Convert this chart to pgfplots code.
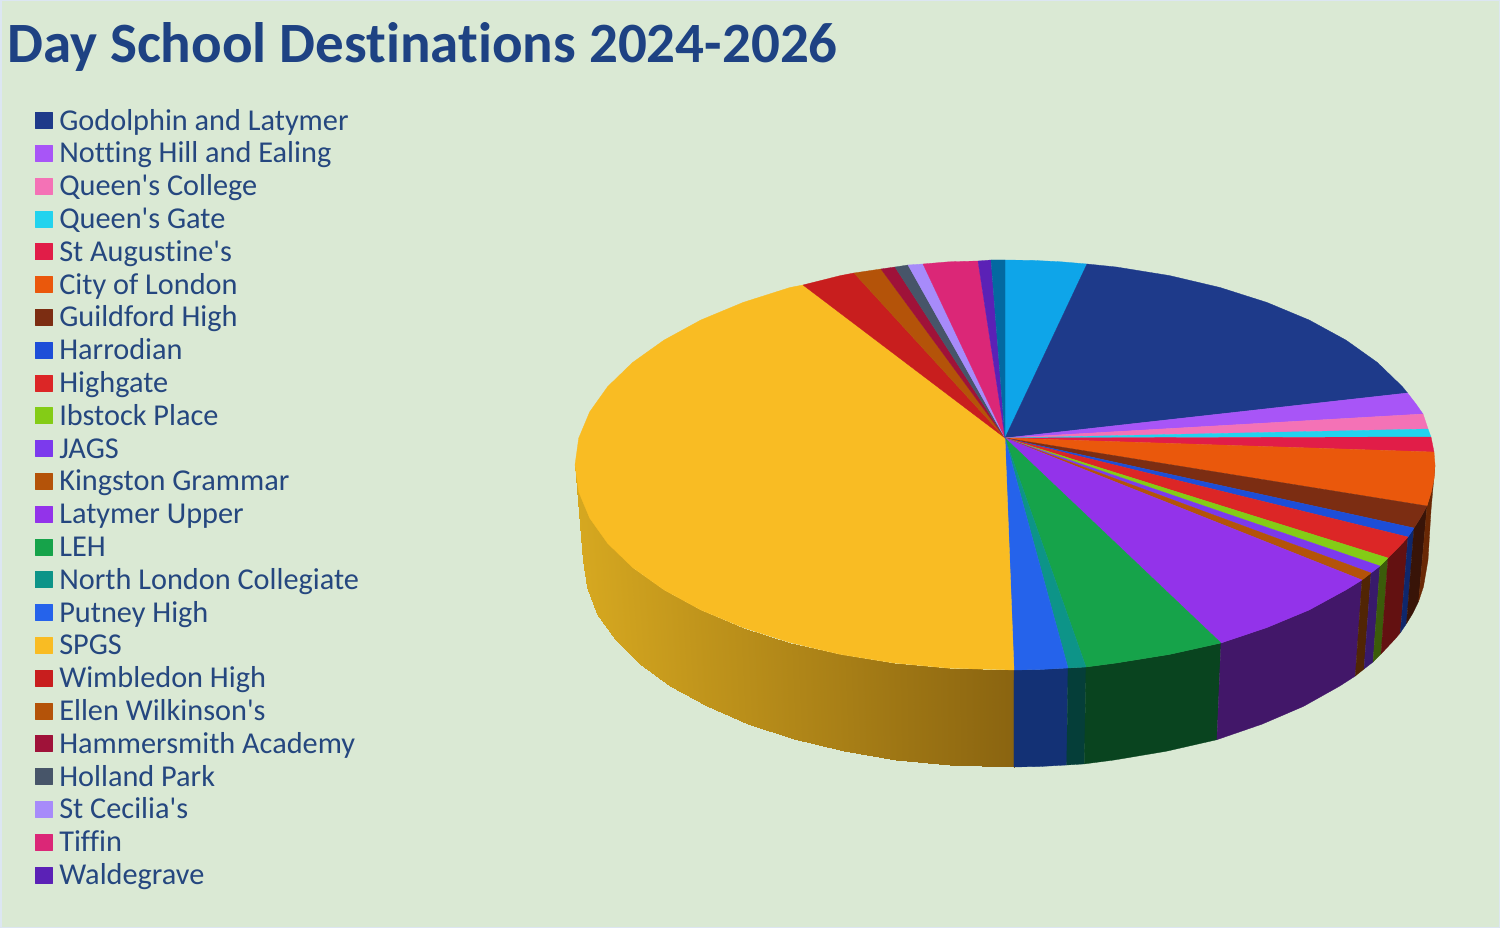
\documentclass[border=0pt]{standalone}
\usepackage{fontspec}
\setmainfont{Carlito}[Ligatures={NoCommon}]
\usepackage{pgfplots}
\pgfplotsset{compat=1.18}

\definecolor{bg}{HTML}{DAE9D4}
\definecolor{border}{HTML}{DCE6F2}
\definecolor{titleblue}{HTML}{1E4283}
\definecolor{legendblue}{HTML}{25477F}

\definecolor{cGodolphin}{HTML}{1E3A8A}
\definecolor{cNotting}{HTML}{A855F7}
\definecolor{cQueensC}{HTML}{F472B6}
\definecolor{cQueensG}{HTML}{22D3EE}
\definecolor{cAugustine}{HTML}{E11D48}
\definecolor{cCity}{HTML}{EA580C}
\definecolor{cGuildford}{HTML}{7C2D12}
\definecolor{cHarrodian}{HTML}{1D4ED8}
\definecolor{cHighgate}{HTML}{DC2626}
\definecolor{cIbstock}{HTML}{84CC16}
\definecolor{cJags}{HTML}{7C3AED}
\definecolor{cKingston}{HTML}{B45309}
\definecolor{cLatymer}{HTML}{9333EA}
\definecolor{cLeh}{HTML}{16A34A}
\definecolor{cNlc}{HTML}{0D9488}
\definecolor{cPutney}{HTML}{2563EB}
\definecolor{cSpgs}{HTML}{F9BC23}
\definecolor{cWimbledon}{HTML}{C81E1E}
\definecolor{cEllen}{HTML}{B45309}
\definecolor{cHammersmith}{HTML}{9F1239}
\definecolor{cHolland}{HTML}{475569}
\definecolor{cCecilia}{HTML}{A78BFA}
\definecolor{cTiffin}{HTML}{DB2777}
\definecolor{cWaldegrave}{HTML}{5B21B6}
\definecolor{cSky}{HTML}{0EA5E9}
\definecolor{cOcean}{HTML}{0369A1}

\tikzset{slice/.style={fill=#1,draw=#1,line width=0.3pt,mark=none,line join=round}}

\begin{document}
\begin{tikzpicture}
\begin{axis}[
    scale only axis,
    width=1500pt, height=928pt,
    xmin=0, xmax=1500,
    ymin=0, ymax=928,
    y dir=reverse,
    axis lines=none,
    colormap={gold}{rgb255=(214,168,32) rgb255=(138,100,16)},
    point meta min=0, point meta max=1,
    legend image code/.code={\fill[#1] (0pt,-5pt) rectangle (17pt,11pt);\path (24pt,0pt);},
    legend cell align=left,
    legend style={
        at={(axis cs:35,107)}, anchor=north west,
        draw=none, fill=none, inner sep=0pt, outer sep=0pt,
        row sep=0pt, column sep=0pt,
        font=\fontsize{30.3}{33}\selectfont\color{legendblue},
        nodes={inner sep=0pt, outer sep=0pt, text height=23pt, text depth=9.8pt},
    },
]

% background
\addplot[fill=bg, draw=border, line width=3pt, forget plot] coordinates {(0,0)(1500,0)(1500,928)(0,928)} -- cycle;

% side walls
\addplot[surf, shader=interp, mesh/rows=2, point meta=explicit, forget plot] table[meta=m] {
x y m
575 465 0
578.7 491.8 0.01
589.7 518.1 0.03
607.7 543.4 0.07
632.6 567.5 0.13
663.9 589.8 0.2
700.9 610 0.29
743.2 627.6 0.38
790 642.5 0.49
840.4 654.4 0.6
893.7 663 0.73
948.9 668.2 0.85
1014 670 1

583 560 0
586.6 587 0.01
597.4 613.6 0.03
615.1 639.2 0.07
639.5 663.5 0.13
670.2 686 0.2
706.6 706.4 0.29
748.1 724.2 0.38
794 739.3 0.49
843.5 751.2 0.6
895.8 759.9 0.73
949.9 765.2 0.85
1013.9 767 1
};
\addplot[slice=cPutney!50!black, forget plot] coordinates {(1014,670)(1040,669.5)(1068,668)(1066.7,765)(1040,766.5)(1013.9,767)} -- cycle;
\addplot[slice=cNlc!42!black, forget plot] coordinates {(1068,668)(1086,667)(1084.4,763.9)(1066.7,765)} -- cycle;
\addplot[slice=cLeh!42!black, forget plot] coordinates {(1086,667)(1116.3,663)(1169.6,654.4)(1221,643)(1216.9,739.7)(1166.5,751.2)(1114.2,760)(1084.4,763.9)} -- cycle;
\addplot[slice=cLatymer!45!black, forget plot] coordinates {(1221,643)(1266.8,627.6)(1309.1,610)(1346.1,589.8)(1362,580)(1355.3,676)(1339.8,686)(1303.4,706.4)(1261.9,724.2)(1216.9,739.7)} -- cycle;
\addplot[slice=cKingston!45!black, forget plot] coordinates {(1362,580)(1371,573)(1364,669)(1355.3,676)} -- cycle;
\addplot[slice=cJags!45!black, forget plot] coordinates {(1371,573)(1380,566)(1373,662)(1364,669)} -- cycle;
\addplot[slice=cIbstock!45!black, forget plot] coordinates {(1380,566)(1388,558)(1381,654)(1373,662)} -- cycle;
\addplot[slice=cHighgate!45!black, forget plot] coordinates {(1388,558)(1402.3,543.4)(1408,537)(1400.4,632.7)(1394.9,639.2)(1381,654)} -- cycle;
\addplot[slice=cHarrodian!50!black, forget plot] coordinates {(1408,537)(1414,528)(1406.5,623.6)(1400.4,632.7)} -- cycle;
\addplot[slice=cGuildford!45!black, forget plot] coordinates {(1414,528)(1420.3,518.1)(1427,506)(1418.6,601.4)(1412.6,613.6)(1406.5,623.6)} -- cycle;
\addplot[slice=cCity!45!black, forget plot] coordinates {(1427,506)(1431.3,491.8)(1435,465)(1431,510)(1428,560)(1423.4,587)(1418.6,601.4)} -- cycle;

% top of the pie, clockwise from 12 o'clock
\addplot[slice=cSky, forget plot] coordinates {(1005,438)(1005,260)(1033,260.4)(1061.1,261.8)(1087,264)} -- cycle;
\addplot[slice=cGodolphin] coordinates {(1005,438)(1087,264)(1116.3,267)(1169.6,275.6)(1220,287.5)(1266.8,302.4)(1309.1,320)(1346.1,340.2)(1377.4,362.5)(1402.3,386.6)(1407.5,393)} -- cycle;
\addlegendentry{Godolphin and Latymer}
\addplot[slice=cNotting] coordinates {(1005,438)(1407.5,393)(1416,404)(1423,414)} -- cycle;
\addlegendentry{Notting Hill and Ealing}
\addplot[slice=cQueensC] coordinates {(1005,438)(1423,414)(1428,429)} -- cycle;
\addlegendentry{Queen\textquotesingle s College}
\addplot[slice=cQueensG] coordinates {(1005,438)(1428,429)(1431,437)} -- cycle;
\addlegendentry{Queen\textquotesingle s Gate}
\addplot[slice=cAugustine] coordinates {(1005,438)(1431,437)(1434,452)} -- cycle;
\addlegendentry{St Augustine\textquotesingle s}
\addplot[slice=cCity] coordinates {(1005,438)(1434,452)(1435,465)(1434.2,478)(1431.3,491.8)(1427,506)} -- cycle;
\addlegendentry{City of London}
\addplot[slice=cGuildford] coordinates {(1005,438)(1427,506)(1420.3,518.1)(1414,528)} -- cycle;
\addlegendentry{Guildford High}
\addplot[slice=cHarrodian] coordinates {(1005,438)(1414,528)(1408,537)} -- cycle;
\addlegendentry{Harrodian}
\addplot[slice=cHighgate] coordinates {(1005,438)(1408,537)(1402.3,543.4)(1388,558)} -- cycle;
\addlegendentry{Highgate}
\addplot[slice=cIbstock] coordinates {(1005,438)(1388,558)(1380,566)} -- cycle;
\addlegendentry{Ibstock Place}
\addplot[slice=cJags] coordinates {(1005,438)(1380,566)(1371,573)} -- cycle;
\addlegendentry{JAGS}
\addplot[slice=cKingston] coordinates {(1005,438)(1371,573)(1362,580)} -- cycle;
\addlegendentry{Kingston Grammar}
\addplot[slice=cLatymer] coordinates {(1005,438)(1362,580)(1346.1,589.8)(1309.1,610)(1266.8,627.6)(1221,643)} -- cycle;
\addlegendentry{Latymer Upper}
\addplot[slice=cLeh] coordinates {(1005,438)(1221,643)(1169.6,654.4)(1116.3,663)(1086,667)} -- cycle;
\addlegendentry{LEH}
\addplot[slice=cNlc] coordinates {(1005,438)(1086,667)(1068,668)} -- cycle;
\addlegendentry{North London Collegiate}
\addplot[slice=cPutney] coordinates {(1005,438)(1068,668)(1040,669.5)(1014,670)} -- cycle;
\addlegendentry{Putney High}
\addplot[slice=cSpgs] coordinates {(1005,438)(1014,670)(948.9,668.2)(893.7,663)(840.4,654.4)(790,642.5)(743.2,627.6)(700.9,610)(663.9,589.8)(632.6,567.5)(607.7,543.4)(589.7,518.1)(578.7,491.8)(575,465)(578.7,438.2)(589.7,411.9)(607.7,386.6)(632.6,362.5)(663.9,340.2)(700.9,320)(743.2,302.4)(790,287.5)(803,285)} -- cycle;
\addlegendentry{SPGS}
\addplot[slice=cWimbledon] coordinates {(1005,438)(803,285)(840.4,275.6)(854,273)} -- cycle;
\addlegendentry{Wimbledon High}
\addplot[slice=cEllen] coordinates {(1005,438)(854,273)(881,269)} -- cycle;
\addlegendentry{Ellen Wilkinson\textquotesingle s}
\addplot[slice=cHammersmith] coordinates {(1005,438)(881,269)(895,267)} -- cycle;
\addlegendentry{Hammersmith Academy}
\addplot[slice=cHolland] coordinates {(1005,438)(895,267)(908,265)} -- cycle;
\addlegendentry{Holland Park}
\addplot[slice=cCecilia] coordinates {(1005,438)(908,265)(923,264)} -- cycle;
\addlegendentry{St Cecilia\textquotesingle s}
\addplot[slice=cTiffin] coordinates {(1005,438)(923,264)(948.9,261.8)(978,261)} -- cycle;
\addlegendentry{Tiffin}
\addplot[slice=cWaldegrave] coordinates {(1005,438)(978,261)(991,260)} -- cycle;
\addlegendentry{Waldegrave}
\addplot[slice=cOcean, forget plot] coordinates {(1005,438)(991,260)(1005,260)} -- cycle;

\node[anchor=base west, inner sep=0pt, text=titleblue, font=\fontsize{57}{62}\selectfont\bfseries] at (axis cs:7,63) {Day School Destinations 2024-2026};
\end{axis}
\end{tikzpicture}
\end{document}
